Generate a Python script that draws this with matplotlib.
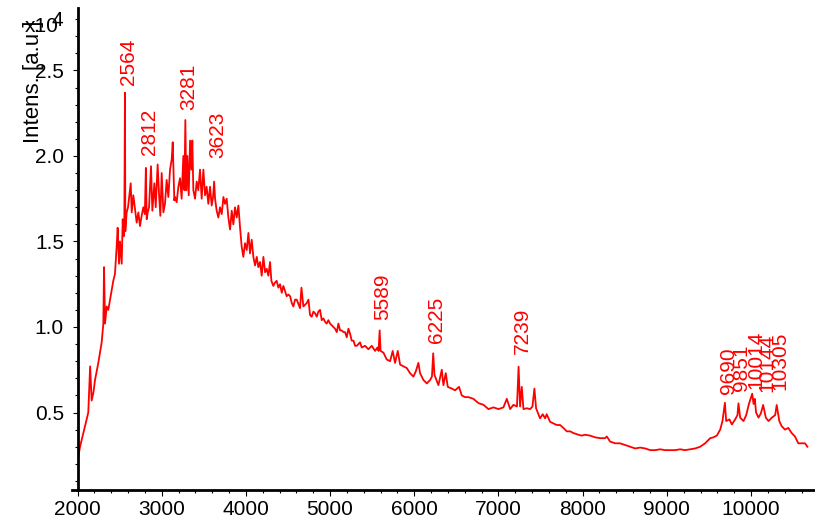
import matplotlib
matplotlib.use("Agg")
import matplotlib.pyplot as plt
from matplotlib.ticker import MultipleLocator, FormatStrFormatter

plt.rcParams["font.family"] = ["Liberation Sans", "DejaVu Sans"]

# Mass spectrum trace: m/z and intensity (in units of 10^4 a.u.)
mz = [
    2000, 2030, 2060, 2089, 2128, 2150, 2168, 2190, 2208, 2247, 2287, 2307, 2315, 2327,
    2347, 2366, 2394, 2425, 2445, 2465, 2477, 2493, 2505, 2525, 2537, 2548, 2556, 2564,
    2568, 2584, 2600, 2632, 2644, 2663, 2683, 2703, 2723, 2742, 2762, 2782, 2800, 2812,
    2822, 2834, 2850, 2873, 2889, 2913, 2929, 2952, 2968, 2984, 3000, 3020, 3039, 3059,
    3079, 3099, 3119, 3131, 3150, 3158, 3178, 3198, 3218, 3237, 3257, 3270, 3281, 3292,
    3305, 3321, 3337, 3352, 3364, 3376, 3396, 3416, 3435, 3455, 3475, 3495, 3515, 3534,
    3554, 3574, 3594, 3610, 3623, 3634, 3653, 3673, 3693, 3713, 3733, 3752, 3772, 3792,
    3812, 3832, 3851, 3871, 3891, 3911, 3931, 3950, 3970, 3990, 4010, 4030, 4049, 4069,
    4089, 4109, 4129, 4148, 4168, 4188, 4208, 4228, 4247, 4267, 4287, 4303, 4326, 4346,
    4366, 4386, 4406, 4426, 4445, 4465, 4485, 4505, 4525, 4545, 4564, 4584, 4604, 4643,
    4660, 4683, 4703, 4723, 4743, 4762, 4782, 4802, 4822, 4842, 4861, 4881, 4901, 4921,
    4941, 4960, 4980, 5000, 5020, 5040, 5059, 5080, 5099, 5119, 5139, 5159, 5178, 5198,
    5218, 5238, 5257, 5278, 5297, 5317, 5337, 5356, 5376, 5416, 5455, 5495, 5535, 5562,
    5576, 5589, 5600, 5634, 5673, 5713, 5744, 5772, 5804, 5832, 5871, 5911, 5950, 5990,
    6018, 6049, 6069, 6109, 6149, 6188, 6210, 6225, 6240, 6287, 6327, 6346, 6374, 6398,
    6445, 6485, 6532, 6564, 6604, 6643, 6703, 6762, 6822, 6881, 6941, 7000, 7059, 7099,
    7139, 7178, 7220, 7239, 7257, 7277, 7297, 7337, 7376, 7404, 7427, 7447, 7475, 7494,
    7526, 7554, 7573, 7613, 7653, 7692, 7732, 7771, 7811, 7851, 7890, 7950, 7989, 8029,
    8088, 8148, 8207, 8267, 8287, 8326, 8386, 8445, 8505, 8564, 8624, 8683, 8743, 8802,
    8861, 8921, 8980, 9040, 9099, 9158, 9218, 9277, 9337, 9396, 9455, 9515, 9554, 9594,
    9634, 9661, 9675, 9690, 9705, 9744, 9772, 9812, 9839, 9851, 9871, 9911, 9943, 9975,
    10014, 10030, 10045, 10060, 10089, 10117, 10144, 10176, 10208, 10247, 10287, 10305,
    10336, 10364, 10404, 10443, 10483, 10522, 10562, 10602, 10641, 10670,
]
intensity = [
    0.21, 0.30, 0.36, 0.42, 0.50, 0.77, 0.57, 0.62, 0.69, 0.79, 0.91, 1.02, 1.35, 1.02,
    1.12, 1.10, 1.18, 1.27, 1.31, 1.47, 1.58, 1.37, 1.50, 1.37, 1.63, 1.53, 1.60, 2.37,
    1.56, 1.67, 1.70, 1.84, 1.67, 1.77, 1.69, 1.61, 1.67, 1.59, 1.65, 1.70, 1.66, 1.93,
    1.63, 1.67, 1.70, 1.94, 1.68, 1.84, 1.70, 1.95, 1.78, 1.65, 1.90, 1.67, 1.72, 1.86,
    1.76, 1.92, 1.98, 2.08, 1.74, 1.76, 1.73, 1.82, 1.87, 1.75, 2.00, 1.80, 2.21, 1.80,
    2.00, 1.77, 2.09, 1.92, 2.09, 1.80, 1.75, 1.85, 1.80, 1.92, 1.75, 1.92, 1.77, 1.82,
    1.72, 1.82, 1.71, 1.76, 1.85, 1.75, 1.68, 1.64, 1.70, 1.66, 1.76, 1.72, 1.75, 1.64,
    1.57, 1.68, 1.60, 1.70, 1.64, 1.71, 1.58, 1.47, 1.41, 1.49, 1.45, 1.55, 1.43, 1.51,
    1.41, 1.36, 1.41, 1.35, 1.38, 1.30, 1.41, 1.32, 1.34, 1.30, 1.38, 1.27, 1.24, 1.26,
    1.27, 1.23, 1.25, 1.20, 1.24, 1.21, 1.18, 1.19, 1.18, 1.14, 1.12, 1.16, 1.16, 1.11,
    1.23, 1.12, 1.13, 1.14, 1.16, 1.07, 1.06, 1.09, 1.08, 1.06, 1.09, 1.10, 1.04, 1.05,
    1.03, 1.02, 1.04, 1.02, 1.01, 1.00, 0.99, 0.97, 1.02, 0.98, 0.98, 0.97, 0.97, 0.94,
    0.99, 0.96, 0.92, 0.92, 0.89, 0.89, 0.90, 0.91, 0.88, 0.89, 0.87, 0.89, 0.86, 0.88,
    0.86, 0.98, 0.86, 0.85, 0.81, 0.80, 0.86, 0.79, 0.86, 0.78, 0.77, 0.76, 0.73, 0.71,
    0.74, 0.79, 0.73, 0.69, 0.67, 0.69, 0.71, 0.846, 0.72, 0.66, 0.75, 0.66, 0.73, 0.65,
    0.64, 0.63, 0.65, 0.60, 0.59, 0.59, 0.58, 0.555, 0.545, 0.52, 0.53, 0.52, 0.53, 0.58,
    0.52, 0.545, 0.535, 0.768, 0.535, 0.65, 0.52, 0.525, 0.52, 0.535, 0.64, 0.525, 0.49, 0.466,
    0.49, 0.466, 0.49, 0.446, 0.436, 0.427, 0.427, 0.41, 0.39, 0.39, 0.38, 0.37, 0.365, 0.37,
    0.365, 0.355, 0.35, 0.35, 0.36, 0.33, 0.32, 0.32, 0.31, 0.30, 0.29, 0.295, 0.29, 0.28,
    0.28, 0.285, 0.28, 0.28, 0.28, 0.285, 0.28, 0.285, 0.29, 0.30, 0.32, 0.35, 0.355, 0.365,
    0.40, 0.45, 0.50, 0.557, 0.45, 0.46, 0.43, 0.46, 0.485, 0.554, 0.47, 0.45, 0.485, 0.55,
    0.61, 0.55, 0.58, 0.50, 0.47, 0.495, 0.544, 0.47, 0.45, 0.47, 0.485, 0.544,
    0.45, 0.42, 0.40, 0.41, 0.38, 0.36, 0.32, 0.32, 0.32, 0.30,
]

# Labelled peaks (m/z)
peak_labels = [2564, 2812, 3281, 3623, 5589, 6225, 7239, 9690, 9851, 10014, 10144, 10305]
# Vertical gap between peak top and its label, in pixels
label_gap_px = [8, 13, 10, 24, 10, 10, 13, 9, 12, 5, 13, 15]

W, H = 815, 527
fig = plt.figure(figsize=(W / 100, H / 100), dpi=100)
ax = fig.add_axes([77.5 / W, 1 - 490 / H, (W - 77.5) / W, (490 - 8) / H])

red = "#ff0000"
ax.plot(mz, intensity, color=red, lw=1.3)

ax.set_xlim(2000, 10760)
ax.set_ylim(0.047, 2.865)

for side in ("top", "right"):
    ax.spines[side].set_visible(False)
for side in ("left", "bottom"):
    ax.spines[side].set_linewidth(2.0)
ax.spines["bottom"].set_bounds(1930, 10760)

ax.xaxis.set_major_locator(MultipleLocator(1000))
ax.xaxis.set_minor_locator(MultipleLocator(200))
ax.yaxis.set_major_locator(MultipleLocator(0.5))
ax.yaxis.set_minor_locator(MultipleLocator(0.1))
ax.yaxis.set_major_formatter(FormatStrFormatter("%.1f"))

ax.tick_params(axis="x", which="major", direction="out", length=4.5, width=0.8,
               labelsize=15, pad=2.5)
ax.tick_params(axis="x", which="minor", direction="out", length=2.5, width=0.8)
ax.tick_params(axis="y", which="major", direction="out", length=3.8, width=0.8,
               labelsize=15, pad=6)
ax.tick_params(axis="y", which="minor", direction="out", length=2.2, width=0.8)

# Peak annotations
for p, gap in zip(peak_labels, label_gap_px):
    y = intensity[mz.index(p)]
    ax.annotate(str(p), xy=(p, y), xytext=(2.5, gap * 0.72),
                textcoords="offset points", rotation=90, ha="center", va="bottom",
                color=red, fontsize=15)

# Axis title and scale factor
fig.text(33.5 / W, 1 - 82 / H, "Intens. [a.u.]", rotation=90, ha="center",
         va="center", fontsize=16)
fig.text(25 / W, 1 - 31.5 / H, "x10", ha="left", va="baseline", fontsize=15)
fig.text(51.5 / W, 1 - 26.5 / H, "4", ha="left", va="baseline", fontsize=15)

fig.savefig("out.png", dpi=100)
